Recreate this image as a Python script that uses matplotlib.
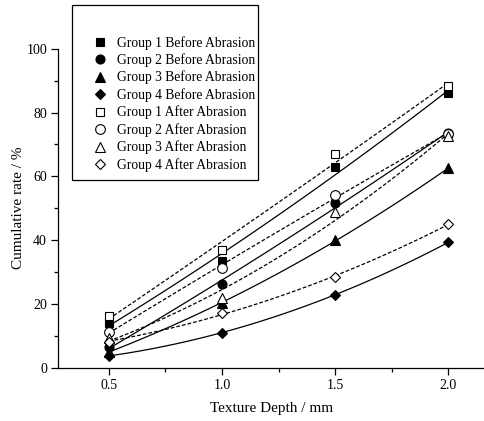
import numpy as np
import matplotlib
matplotlib.use('Agg')
import matplotlib.pyplot as plt
from matplotlib.ticker import MultipleLocator
from matplotlib.patches import Rectangle

plt.rcParams['font.family'] = ['Liberation Serif', 'DejaVu Serif']

# texture depth (mm)
depth = [0.5, 1.0, 1.5, 2.0]

# cumulative rate (%)
g1_before = [13.9, 33.5, 62.8, 86.2]
g2_before = [6.5, 26.1, 51.5, 73.5]
g3_before = [5.0, 20.2, 40.0, 62.5]
g4_before = [3.7, 11.0, 22.9, 39.3]
g1_after = [16.2, 36.9, 66.9, 88.4]
g2_after = [11.2, 31.3, 54.2, 73.3]
g3_after = [9.2, 22.0, 48.7, 72.6]
g4_after = [8.2, 17.0, 28.5, 45.0]

labels = ['Group 1 Before Abrasion', 'Group 2 Before Abrasion',
          'Group 3 Before Abrasion', 'Group 4 Before Abrasion',
          'Group 1 After Abrasion', 'Group 2 After Abrasion',
          'Group 3 After Abrasion', 'Group 4 After Abrasion']
series = [g1_before, g2_before, g3_before, g4_before,
          g1_after, g2_after, g3_after, g4_after]
markers = ['s', 'o', '^', 'D', 's', 'o', '^', 'D']
sizes = [6, 6.5, 7, 5.5, 6, 7, 7.3, 5.5]

fig = plt.figure(figsize=(4.85, 4.21), dpi=100)
ax = fig.add_axes([0.120, 0.1266, 0.88, 0.7577])

xs = np.linspace(0.5, 2.0, 100)
handles = []
for i, (ys, lab) in enumerate(zip(series, labels)):
    after = i >= 4
    coef = np.polyfit(depth, ys, 2)
    ls = (0, (3, 1.6)) if after else '-'
    ax.plot(xs, np.polyval(coef, xs), color='black', lw=0.9, ls=ls, zorder=2)
    h, = ax.plot(depth, ys, ls='none', marker=markers[i], ms=sizes[i],
                 mfc='white' if after else 'black', mec='black', mew=0.8,
                 label=lab, zorder=3)
    handles.append(h)

ax.set_xlim(0.276, 2.162)
ax.set_ylim(0, 100)
ax.xaxis.set_major_locator(MultipleLocator(0.5))
ax.xaxis.set_minor_locator(MultipleLocator(0.25))
ax.yaxis.set_major_locator(MultipleLocator(20))
ax.yaxis.set_minor_locator(MultipleLocator(10))
ax.set_xticks([0.5, 1.0, 1.5, 2.0])
ax.set_xticklabels(['0.5', '1.0', '1.5', '2.0'])
ax.tick_params(which='major', direction='out', length=5, width=0.9, labelsize=10, pad=3)
ax.tick_params(which='minor', direction='out', length=3, width=0.9)
for s in ['top', 'right']:
    ax.spines[s].set_visible(False)
for s in ['left', 'bottom']:
    ax.spines[s].set_linewidth(0.9)

ax.set_xlabel('Texture Depth / mm', fontsize=11, labelpad=7)
ax.set_ylabel('Cumulative rate / %', fontsize=11)
ax.yaxis.set_label_coords(-0.078, 0.5)

# legend box with empty space at top
fig.patches.append(Rectangle((71.7 / 485, 1 - 180 / 421), 186 / 485, 175 / 421,
                             transform=fig.transFigure, fill=True, facecolor='white',
                             edgecolor='black', lw=0.9, zorder=5))
leg = fig.legend(handles=handles, loc='upper left',
                 bbox_to_anchor=(86 / 485, 1 - 29 / 421), frameon=False,
                 fontsize=9.8, handlelength=1.0, handletextpad=0.8,
                 labelspacing=0.27, borderpad=0, numpoints=1)
leg.set_zorder(6)

fig.savefig('out.png', dpi=100)
